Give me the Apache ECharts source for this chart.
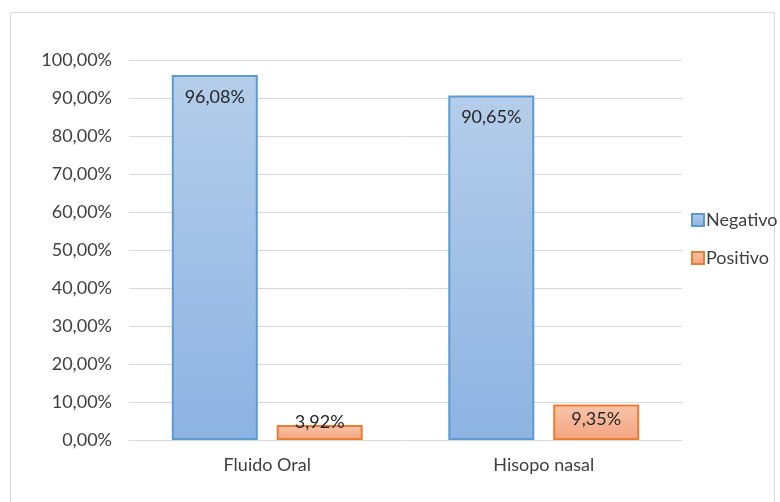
<!DOCTYPE html>
<html>
<head>
<meta charset="utf-8">
<script src="https://cdn.jsdelivr.net/npm/echarts@6/dist/echarts.min.js"></script>
<style>
  html, body { margin: 0; padding: 0; background: #fff; }
  #chart { width: 780px; height: 502px; }
</style>
</head>
<body>
<div id="chart"></div>
<script>
  var categories = ['Fluido Oral', 'Hisopo nasal'];
  var negativo = [96.08, 90.65];
  var positivo = [3.92, 9.35];
  var seriesNames = ['Negativo', 'Positivo'];

  function fmt(v) {
    return v.toFixed(2).replace('.', ',') + '%';
  }

  var font = 'Lato, "Open Sans", sans-serif';

  function grad(top, bottom) {
    return new echarts.graphic.LinearGradient(0, 0, 0, 1, [
      { offset: 0, color: top },
      { offset: 1, color: bottom }
    ]);
  }

  var blueFill = grad('#b4cdea', '#8db3e2');
  var orangeFill = grad('#f9c4ab', '#f4a47f');

  var negData = negativo.map(function (v) {
    return { value: v, label: { position: 'insideTop', distance: 13 } };
  });
  var posData = positivo.map(function (v) {
    if (v < 6) {
      return { value: v, label: { position: 'top', distance: -6 } };
    }
    return { value: v, label: { position: 'insideTop', distance: 6 } };
  });

  var option = {
    animation: false,
    textStyle: { fontFamily: font },
    graphic: [{
      type: 'rect',
      shape: { x: 10.5, y: 12.5, width: 764, height: 500 },
      style: { fill: 'none', stroke: '#d9d9d9', lineWidth: 1 },
      silent: true
    }],
    grid: { left: 129, right: 98, top: 60, bottom: 62 },
    legend: {
      data: seriesNames,
      orient: 'vertical',
      left: 686,
      top: 206,
      itemWidth: 12,
      itemHeight: 12,
      itemGap: 20,
      icon: 'rect',
      textStyle: { fontFamily: font, fontSize: 18, color: '#404040', padding: [0, 0, 0, -3] }
    },
    xAxis: {
      type: 'category',
      data: categories,
      axisLine: { lineStyle: { color: '#d9d9d9' } },
      axisTick: { show: false },
      axisLabel: { fontFamily: font, fontSize: 18, color: '#404040', margin: 16 }
    },
    yAxis: {
      type: 'value',
      min: 0,
      max: 100,
      interval: 10,
      axisLine: { show: false },
      axisTick: { show: false },
      splitLine: { lineStyle: { color: '#d9d9d9' } },
      axisLabel: {
        fontFamily: font, fontSize: 18, color: '#404040', margin: 17,
        formatter: function (v) { return fmt(v); }
      }
    },
    series: [
      {
        name: seriesNames[0],
        type: 'bar',
        barWidth: 86,
        barGap: '22%',
        data: negData,
        itemStyle: { color: blueFill, borderColor: '#5b9bd5', borderWidth: 2 },
        label: {
          show: true, fontFamily: font, fontSize: 18, color: '#262626',
          formatter: function (p) { return fmt(p.value); }
        }
      },
      {
        name: seriesNames[1],
        type: 'bar',
        barWidth: 86,
        barGap: '22%',
        data: posData,
        itemStyle: { color: orangeFill, borderColor: '#ed7d31', borderWidth: 2 },
        label: {
          show: true, fontFamily: font, fontSize: 18, color: '#262626',
          formatter: function (p) { return fmt(p.value); }
        }
      }
    ]
  };

  var myChart = echarts.init(document.getElementById('chart'));
  myChart.setOption(option);
</script>
</body>
</html>
